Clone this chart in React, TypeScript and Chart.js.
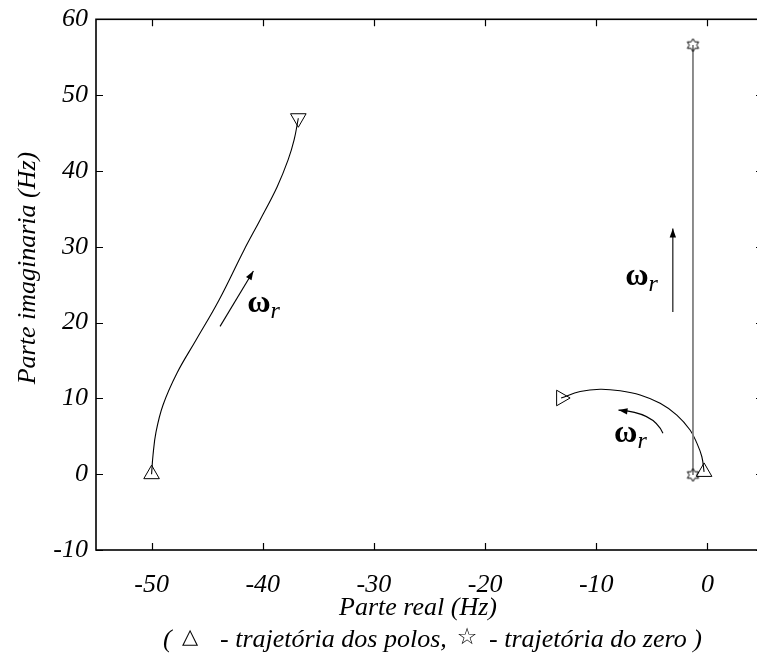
import React, { useEffect, useRef } from "react";
import { Chart, registerables } from "chart.js";

Chart.register(...registerables);

// Pole trajectory on the left (starts at -50 Hz on the real axis)
const leftPoleRe = [-50.0, -49.87, -49.6, -48.97, -47.71, -46.0, -43.93, -41.68, -40.24, -38.71, -37.72, -37.18, -36.8];
const leftPoleIm = [0.0, 2.53, 5.57, 9.13, 13.35, 17.7, 22.98, 29.58, 33.54, 37.89, 41.45, 44.09, 46.95];

// Pole trajectory near the origin (ordered by increasing real part)
const rightPoleRe = [-13.16, -11.45, -9.65, -7.85, -6.05, -4.25, -2.75, -1.56, -0.95, -0.5, -0.3];
const rightPoleIm = [10.05, 10.9, 11.2, 11.0, 10.45, 9.35, 7.8, 5.83, 4.1, 2.3, 0.3];

// Zero trajectory (vertical segment)
const zeroRe = [-1.3, -1.3];
const zeroIm = [-0.1, 56.6];

// Axis ticks
const xTickValues = [-50, -40, -30, -20, -10, 0];
const yTickValues = [-10, 0, 10, 20, 30, 40, 50, 60];
const xRange = [-55, 5];
const yRange = [-10, 60];

// Rotation direction arrows with their ω_r labels (data coordinates)
const arrowLeft = { from: [-43.84, 19.5], to: [-40.84, 26.8], label: [-41.4, 21.4] };
const arrowZero = { from: [-3.11, 21.4], to: [-3.11, 32.4], label: [-7.4, 24.9] };
const arrowArc = [
  [-4.0, 5.4],
  [-4.6, 7.4],
  [-6.2, 8.3],
  [-8.0, 8.45],
];
const arrowArcLabel = [-8.4, 4.25];

const SERIF = "'Liberation Serif', 'Times New Roman', serif";

// Plot frame in canvas pixels (the right edge runs just past the canvas)
const FRAME = { left: 96, top: 19.3, right: 763, bottom: 550 };

function toPoints(xs: number[], ys: number[]) {
  return xs.map((v, i) => ({ x: v, y: ys[i] }));
}

function makeHexagram(size: number) {
  const c = document.createElement("canvas");
  c.width = size;
  c.height = size;
  const g = c.getContext("2d")!;
  const cx = size / 2;
  const r = size / 2 - 1;
  const ri = r / Math.sqrt(3);
  g.beginPath();
  for (let i = 0; i < 12; i++) {
    const a = -Math.PI / 2 + (i * Math.PI) / 6;
    const rr = i % 2 === 0 ? r : ri;
    g.lineTo(cx + rr * Math.cos(a), cx + rr * Math.sin(a));
  }
  g.closePath();
  g.lineWidth = 1;
  g.strokeStyle = "#000";
  g.stroke();
  return c;
}

function arrowHead(ctx: CanvasRenderingContext2D, x0: number, y0: number, x1: number, y1: number) {
  const ang = Math.atan2(y1 - y0, x1 - x0);
  const len = 9;
  const half = 3.2;
  ctx.beginPath();
  ctx.moveTo(x1, y1);
  ctx.lineTo(x1 - len * Math.cos(ang) + half * Math.sin(ang), y1 - len * Math.sin(ang) - half * Math.cos(ang));
  ctx.lineTo(x1 - len * Math.cos(ang) - half * Math.sin(ang), y1 - len * Math.sin(ang) + half * Math.cos(ang));
  ctx.closePath();
  ctx.fill();
}

function omegaLabel(ctx: CanvasRenderingContext2D, x: number, y: number) {
  ctx.textAlign = "left";
  ctx.textBaseline = "alphabetic";
  ctx.font = `bold 32px ${SERIF}`;
  ctx.fillText("ω", x, y);
  const w = ctx.measureText("ω").width;
  ctx.font = `italic 24px ${SERIF}`;
  ctx.fillText("r", x + w, y + 6);
}

// Pin the plot area to FRAME, then let the scales recompute their pixel mapping
const framePlugin = {
  id: "frame",
  afterLayout(chart: any) {
    const a = chart.chartArea;
    a.left = FRAME.left;
    a.right = FRAME.right;
    a.top = FRAME.top;
    a.bottom = FRAME.bottom;
    a.width = FRAME.right - FRAME.left;
    a.height = FRAME.bottom - FRAME.top;
    const xs = chart.scales.x;
    xs.left = FRAME.left;
    xs.right = FRAME.right;
    xs.width = a.width;
    xs.top = FRAME.bottom;
    xs.bottom = chart.height;
    xs.height = chart.height - FRAME.bottom;
    xs.configure();
    const ys = chart.scales.y;
    ys.left = 0;
    ys.right = FRAME.left;
    ys.width = FRAME.left;
    ys.top = FRAME.top;
    ys.bottom = FRAME.bottom;
    ys.height = a.height;
    ys.configure();
  },
};

const decorPlugin = {
  id: "decor",
  afterDraw(chart: any) {
    const { ctx, chartArea: a, scales } = chart;
    const xs = scales.x;
    const ys = scales.y;
    const px = (v: number) => xs.getPixelForValue(v);
    const py = (v: number) => ys.getPixelForValue(v);
    ctx.save();
    ctx.strokeStyle = "#000";
    ctx.fillStyle = "#000";

    // inward tick marks on all four sides
    ctx.lineWidth = 1.2;
    ctx.beginPath();
    xTickValues.forEach((v) => {
      const p = Math.round(px(v)) + 0.5;
      ctx.moveTo(p, a.bottom);
      ctx.lineTo(p, a.bottom - 7);
      ctx.moveTo(p, a.top);
      ctx.lineTo(p, a.top + 7);
    });
    yTickValues.forEach((v) => {
      const p = Math.round(py(v)) + 0.5;
      ctx.moveTo(a.left, p);
      ctx.lineTo(a.left + 7, p);
      ctx.moveTo(a.right, p);
      ctx.lineTo(a.right - 7, p);
    });
    ctx.stroke();

    // frame
    ctx.lineWidth = 1.6;
    ctx.strokeRect(a.left, a.top, a.right - a.left, a.bottom - a.top);

    // arrows
    ctx.lineWidth = 1.1;
    const drawStraight = (arr: { from: number[]; to: number[] }) => {
      const x0 = px(arr.from[0]);
      const y0 = py(arr.from[1]);
      const x1 = px(arr.to[0]);
      const y1 = py(arr.to[1]);
      ctx.beginPath();
      ctx.moveTo(x0, y0);
      ctx.lineTo(x1, y1);
      ctx.stroke();
      arrowHead(ctx, x0, y0, x1, y1);
    };
    drawStraight(arrowLeft);
    drawStraight(arrowZero);

    const arc = arrowArc.map((p) => [px(p[0]), py(p[1])]);
    ctx.beginPath();
    ctx.moveTo(arc[0][0], arc[0][1]);
    ctx.bezierCurveTo(arc[1][0], arc[1][1], arc[2][0], arc[2][1], arc[3][0], arc[3][1]);
    ctx.stroke();
    arrowHead(ctx, arc[2][0], arc[2][1] + 1.5, arc[3][0], arc[3][1]);

    omegaLabel(ctx, px(arrowLeft.label[0]), py(arrowLeft.label[1]));
    omegaLabel(ctx, px(arrowZero.label[0]), py(arrowZero.label[1]));
    omegaLabel(ctx, px(arrowArcLabel[0]), py(arrowArcLabel[1]));

    // axis titles
    ctx.fillStyle = "#000";
    ctx.font = `italic 26px ${SERIF}`;
    ctx.textAlign = "center";
    ctx.textBaseline = "middle";
    ctx.save();
    ctx.translate(28, 268);
    ctx.rotate(-Math.PI / 2);
    ctx.fillText("Parte imaginaria (Hz)", 0, 0);
    ctx.restore();
    ctx.fillText("Parte real (Hz)", 418, 608);

    // marker key line under the x title
    const keyY = 640;
    ctx.textBaseline = "middle";
    ctx.textAlign = "left";
    ctx.font = `italic 26px ${SERIF}`;
    ctx.fillText("(", 163, keyY);
    ctx.fillText("- trajetória dos polos,", 220, keyY);
    ctx.fillText("- trajetória do zero )", 489, keyY);
    ctx.textAlign = "center";
    ctx.font = `21px 'DejaVu Sans', sans-serif`;
    ctx.fillText("△", 190, keyY - 2);
    ctx.font = `23px 'DejaVu Sans', sans-serif`;
    ctx.fillText("☆", 467, keyY - 2);
    ctx.restore();
  },
};

export default function App() {
  const ref = useRef<HTMLCanvasElement | null>(null);

  useEffect(() => {
    const canvas = ref.current;
    if (!canvas) return;
    const star = makeHexagram(15);
    const leftN = leftPoleRe.length;
    const rightN = rightPoleRe.length;

    const chart = new Chart(canvas, {
      type: "scatter",
      data: {
        datasets: [
          {
            data: toPoints(zeroRe, zeroIm),
            showLine: true,
            borderColor: "#808080",
            borderWidth: 1.8,
            tension: 0,
            pointStyle: star as any,
            pointRadius: 7,
            pointBorderColor: "#000",
            pointBackgroundColor: "rgba(0,0,0,0)",
          },
          {
            data: toPoints(leftPoleRe, leftPoleIm),
            showLine: true,
            borderColor: "#000",
            borderWidth: 1.1,
            tension: 0.4,
            pointStyle: "triangle",
            pointRotation: (c: any) => (c.dataIndex === leftN - 1 ? 180 : 0),
            pointRadius: (c: any) => (c.dataIndex === 0 || c.dataIndex === leftN - 1 ? 9 : 0),
            pointBorderColor: "#000",
            pointBorderWidth: 1,
            pointBackgroundColor: "rgba(0,0,0,0)",
          },
          {
            data: toPoints(rightPoleRe, rightPoleIm),
            showLine: true,
            borderColor: "#000",
            borderWidth: 1.1,
            tension: 0.4,
            pointStyle: "triangle",
            pointRotation: (c: any) => (c.dataIndex === 0 ? 90 : 0),
            pointRadius: (c: any) => (c.dataIndex === 0 || c.dataIndex === rightN - 1 ? 9 : 0),
            pointBorderColor: "#000",
            pointBorderWidth: 1,
            pointBackgroundColor: "rgba(0,0,0,0)",
          },
        ],
      },
      options: {
        responsive: false,
        animation: false,
        devicePixelRatio: 1,
        layout: { padding: { left: 0, top: 19, right: 0, bottom: 0 } },
        plugins: { legend: { display: false }, tooltip: { enabled: false } },
        scales: {
          x: {
            type: "linear",
            min: xRange[0],
            max: xRange[1],
            afterBuildTicks: (s: any) => {
              s.ticks = xTickValues.map((v) => ({ value: v }));
            },
            grid: { display: false, drawTicks: false },
            border: { display: false },
            ticks: {
              color: "#000",
              font: { family: SERIF, size: 26, style: "italic" },
              padding: 20,
              maxRotation: 0,
            },
          },
          y: {
            type: "linear",
            min: yRange[0],
            max: yRange[1],
            afterBuildTicks: (s: any) => {
              s.ticks = yTickValues.map((v) => ({ value: v }));
            },
            grid: { display: false, drawTicks: false },
            border: { display: false },
            ticks: {
              color: "#000",
              font: { family: SERIF, size: 26, style: "italic" },
              padding: 8,
            },
          },
        },
      },
      plugins: [framePlugin, decorPlugin],
    } as any);

    return () => chart.destroy();
  }, []);

  return (
    <div style={{ position: "fixed", left: 0, top: 0, width: 757, height: 662, overflow: "hidden", background: "#fff" }}>
      <canvas ref={ref} width={757} height={662} style={{ display: "block", width: 757, height: 662 }} />
    </div>
  );
}
